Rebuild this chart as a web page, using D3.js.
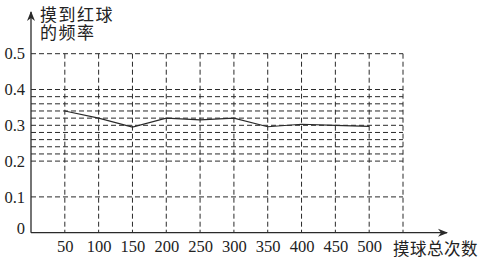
<!DOCTYPE html>
<html>
<head>
<meta charset="utf-8">
<script src="https://cdn.jsdelivr.net/npm/d3@7"></script>
<style>
  body { margin: 0; background: #fff; }
  svg { display: block; }
  svg .tick text { font-family: "Liberation Serif", "Times New Roman", serif !important; font-size: 16.5px; fill: #222; }
  .cjk { font-family: "Noto Sans CJK SC", sans-serif; fill: #222; }
</style>
</head>
<body>
<svg id="chart" width="479" height="262"></svg>
<script>
const counts = [50, 100, 150, 200, 250, 300, 350, 400, 450, 500];
const freqs = [0.34, 0.32, 0.295, 0.32, 0.315, 0.32, 0.296, 0.303, 0.3, 0.297];
const yTicks = [0, 0.1, 0.2, 0.3, 0.4, 0.5];
const gridY = [0.1, 0.2, 0.22, 0.24, 0.26, 0.28, 0.3, 0.32, 0.34, 0.36, 0.38, 0.4, 0.5];
const gridX = [50, 100, 150, 200, 250, 300, 350, 400, 450, 500, 550];
const yTitle = ["摸到红球", "的频率"];
const xTitle = "摸球总次数";

const svg = d3.select("#chart");
const ink = "#2a2a2a";

const x = d3.scaleLinear().domain([0, 550]).range([31, 403]);
const y = d3.scaleLinear().domain([0, 0.5]).range([232.7, 53.7]);

// dashed grid
const grid = svg.append("g")
  .attr("stroke", ink)
  .attr("stroke-width", 1)
  .attr("stroke-dasharray", "5,3");

grid.selectAll("line.h")
  .data(gridY)
  .enter().append("line")
  .attr("class", "h")
  .attr("x1", x(0))
  .attr("x2", x(550))
  .attr("y1", d => y(d))
  .attr("y2", d => y(d));

grid.selectAll("line.v")
  .data(gridX)
  .enter().append("line")
  .attr("class", "v")
  .attr("x1", d => x(d))
  .attr("x2", d => x(d))
  .attr("y1", y(0.5))
  .attr("y2", y(0));

// axes lines with arrows
svg.append("defs").append("marker")
  .attr("id", "arrow")
  .attr("viewBox", "0 0 10 10")
  .attr("refX", 9)
  .attr("refY", 5)
  .attr("markerWidth", 10)
  .attr("markerHeight", 10)
  .attr("markerUnits", "userSpaceOnUse")
  .attr("orient", "auto")
  .append("path")
  .attr("d", "M0,1 L10,5 L0,9 L3,5 Z")
  .attr("fill", ink);

svg.append("line")
  .attr("x1", x(0)).attr("y1", y(0))
  .attr("x2", 447).attr("y2", y(0))
  .attr("stroke", ink).attr("stroke-width", 1.3)
  .attr("marker-end", "url(#arrow)");

svg.append("line")
  .attr("x1", x(0)).attr("y1", y(0))
  .attr("x2", x(0)).attr("y2", 12)
  .attr("stroke", ink).attr("stroke-width", 1.3)
  .attr("marker-end", "url(#arrow)");

// tick labels
const xAxis = d3.axisBottom(x)
  .tickValues(counts)
  .tickSize(0)
  .tickPadding(8)
  .tickFormat(d => d);

svg.append("g")
  .attr("transform", `translate(0, ${y(0)})`)
  .call(xAxis)
  .attr("font-family", null)
  .attr("font-size", null)
  .call(g => g.select(".domain").remove());

const yAxis = d3.axisLeft(y)
  .tickValues(yTicks)
  .tickSize(0)
  .tickPadding(6)
  .tickFormat(d => d === 0 ? "0" : d3.format(".1f")(d));

svg.append("g")
  .attr("transform", `translate(${x(0)}, 0)`)
  .call(yAxis)
  .attr("font-family", null)
  .attr("font-size", null)
  .call(g => g.select(".domain").remove())
  .call(g => g.selectAll(".tick text").filter(d => d === 0).attr("dy", "0.02em"));

// frequency line
const line = d3.line()
  .x((d, i) => x(counts[i]))
  .y(d => y(d));

svg.append("path")
  .datum(freqs)
  .attr("d", line)
  .attr("fill", "none")
  .attr("stroke", ink)
  .attr("stroke-width", 1.2);

// titles
const yLabel = svg.append("text")
  .attr("class", "cjk")
  .attr("font-size", 17)
  .attr("letter-spacing", 1.5)
  .attr("x", 40)
  .attr("y", 20.5);

yLabel.selectAll("tspan")
  .data(yTitle)
  .enter().append("tspan")
  .attr("x", 40)
  .attr("dy", (d, i) => i === 0 ? 0 : 18)
  .text(d => d);

svg.append("text")
  .attr("class", "cjk")
  .attr("font-size", 16.5)
  .attr("letter-spacing", 0.5)
  .attr("x", 393)
  .attr("y", 254.5)
  .text(xTitle);
</script>
</body>
</html>
